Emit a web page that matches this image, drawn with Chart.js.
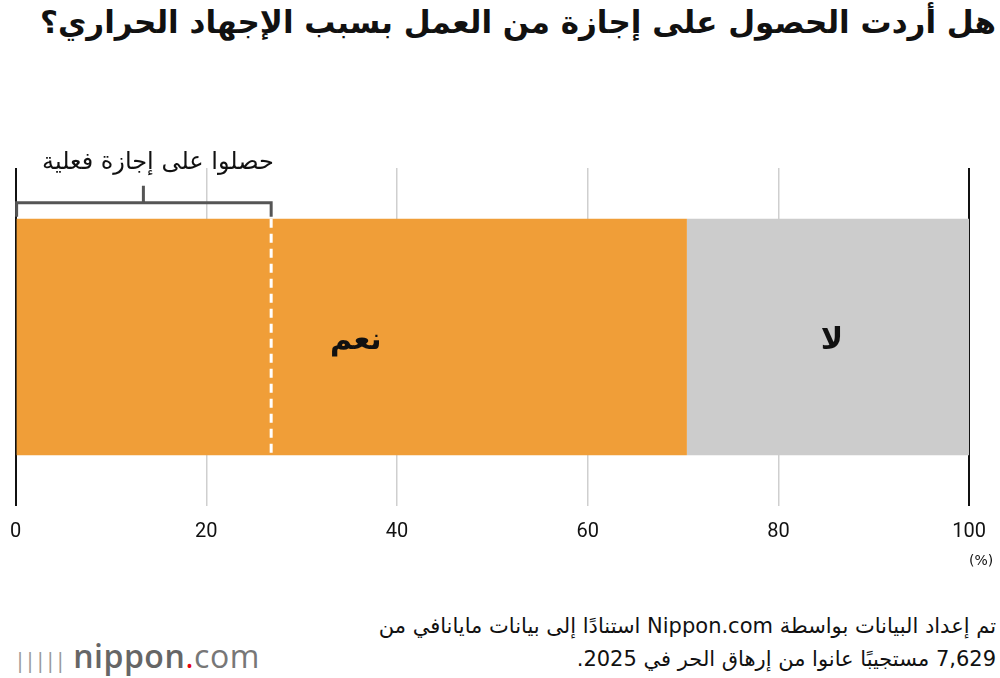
<!DOCTYPE html>
<html lang="ar">
<head>
<meta charset="utf-8">
<script src="https://cdn.jsdelivr.net/npm/chart.js@4"></script>
<style>
  body { margin: 0; width: 1000px; height: 678px; background: #fff; position: relative; overflow: hidden; font-family: "DejaVu Sans", sans-serif; }
  h1 { position: absolute; right: 4px; top: 4px; margin: 0; font-size: 31px; font-weight: bold; direction: rtl; color: #111; }
  #wrap { position: absolute; left: -4px; top: 150px; width: 1004px; height: 440px; }
  .note { position: absolute; right: 4px; top: 610px; direction: rtl; font-size: 21px; line-height: 33px; text-align: right; color: #111; }
  .logo { position: absolute; left: 14px; top: 634px; font-family: "Open Sans", sans-serif; font-size: 32px; color: #777; letter-spacing: 0.5px; }
  .logo b { font-weight: 600; color: #666; }
  .logo span.dot { color: #e60012; }
</style>
</head>
<body>
<h1>هل أردت الحصول على إجازة من العمل بسبب الإجهاد الحراري؟</h1>
<div id="wrap"><canvas id="chart"></canvas></div>
<div class="note">تم إعداد البيانات بواسطة Nippon.com استنادًا إلى بيانات مايانافي من<br>7,629 مستجيبًا عانوا من إرهاق الحر في 2025.</div>
<div class="logo"><span style="font-size:22px;letter-spacing:-2px;color:#999">|||||</span> <b>nippon</b><span class="dot">.</span>com</div>
<script>
// values (percent)
const categories = ["answers"];
const yesValues = [70.4];
const noValues = [29.6];
const tookLeave = 26.8;
const seriesLabels = ["نعم", "لا"];
const bracketLabel = "حصلوا على إجازة فعلية";

const overlay = {
  id: "overlay",
  afterDatasetsDraw(chart) {
    const { ctx, scales: { x } } = chart;
    const bar = chart.getDatasetMeta(0).data[0];
    const top = bar.y - bar.height / 2, bottom = bar.y + bar.height / 2;
    ctx.save();
    // labels inside segments
    ctx.font = "bold 30px 'DejaVu Sans'";
    ctx.fillStyle = "#111";
    ctx.textAlign = "center";
    ctx.textBaseline = "middle";
    chart.data.datasets.forEach((ds, i) => {
      const el = chart.getDatasetMeta(i).data[0];
      ctx.fillText(ds.label, (el.base + el.x) / 2 + 4, el.y + 4);
    });
    // dashed line
    const xd = x.getPixelForValue(tookLeave);
    ctx.strokeStyle = "#fff";
    ctx.lineWidth = 3;
    ctx.setLineDash([9, 6]);
    ctx.beginPath(); ctx.moveTo(xd, top); ctx.lineTo(xd, bottom); ctx.stroke();
    // bracket
    const x0 = x.getPixelForValue(0);
    ctx.setLineDash([]);
    ctx.strokeStyle = "#555";
    ctx.beginPath();
    ctx.moveTo(x0 + 1, top - 2); ctx.lineTo(x0 + 1, top - 16);
    ctx.lineTo(xd, top - 16); ctx.lineTo(xd, top - 2);
    const xm = (x0 + xd) / 2;
    ctx.moveTo(xm, top - 16); ctx.lineTo(xm, top - 33);
    ctx.stroke();
    ctx.font = "24px 'DejaVu Sans'";
    ctx.fillStyle = "#111";
    ctx.fillText(bracketLabel, 162, top - 56);
    // unit
    ctx.font = "14px 'DejaVu Sans'";
    ctx.fillText("(%)", x.getPixelForValue(100) + 12, chart.chartArea.bottom + 55);
    ctx.restore();
  }
};

new Chart(document.getElementById("chart"), {
  type: "bar",
  data: {
    labels: categories,
    datasets: [
      { label: seriesLabels[0], data: yesValues, backgroundColor: "#f09e38" },
      { label: seriesLabels[1], data: noValues, backgroundColor: "#cccccc" },
    ],
  },
  options: {
    indexAxis: "y",
    responsive: true,
    maintainAspectRatio: false,
    animation: false,
    barPercentage: 0.7,
    categoryPercentage: 1,
    layout: { padding: { left: 6, right: 20, top: 18, bottom: 0 } },
    plugins: { legend: { display: false }, tooltip: { enabled: false } },
    scales: {
      x: {
        stacked: true,
        min: 0, max: 100,
        border: { display: false },
        afterFit: (s) => { s.height = 84; },
        grid: {
          drawTicks: false,
          color: (c) => (c.tick.value === 0 || c.tick.value === 100 ? "#111" : "#cfcfcf"),
          lineWidth: (c) => (c.tick.value === 0 || c.tick.value === 100 ? 2 : 1.5),
        },
        ticks: { stepSize: 20, padding: 14, color: "#111", font: { family: "Roboto", size: 20 } },
      },
      y: { stacked: true, display: false },
    },
  },
  plugins: [overlay],
});
</script>
</body>
</html>
